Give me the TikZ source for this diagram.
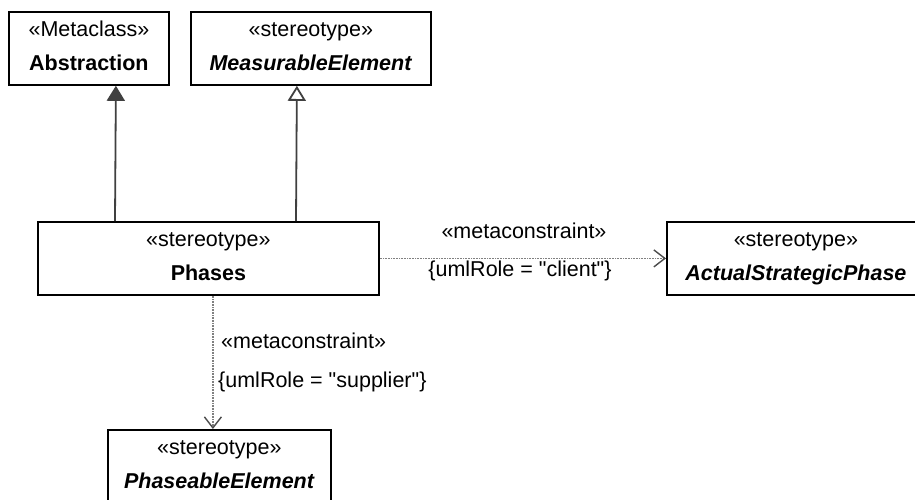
\documentclass[tikz,border=0pt]{standalone}
\usepackage{fontspec}
\setmainfont{Liberation Sans}[Ligatures=TeXOff]
\usetikzlibrary{arrows.meta,calc}
\newcommand\umltext[2]{\rule{0pt}{16pt}#1\\#2\rule[-5pt]{0pt}{5pt}}
\tikzset{
  umlbox/.style={draw=black, line width=1.8pt, fill=white, inner sep=0pt, align=center,
    minimum height=73pt, anchor=north west, font=\fontsize{21.5}{34}\selectfont},
  lbl/.style={inner sep=0pt, font=\fontsize{21.5}{34}\selectfont},
  genfill/.style={draw=black!75, line width=1.8pt, -{Triangle[width=18pt,length=15pt,fill=black!75]}},
  genopen/.style={draw=black!75, line width=1.8pt, -{Triangle[open,width=18pt,length=15pt,fill=white]}},
  dep/.style={draw=black!50, line width=1.6pt, dash pattern=on 1pt off 0.6pt,
    -{Straight Barb[length=11pt,width=17pt,line width=1.4pt,color=black!70]}}
}
\begin{document}
\begin{tikzpicture}[x=1pt,y=-1pt]
\useasboundingbox (0,0) rectangle (915,499);
\fill[white] (0,0) rectangle (915,499);
\clip (0,0) rectangle (915,499);
\node[umlbox, minimum width=160pt] (abs) at (8,11) {\umltext{«Metaclass»}{\textbf{Abstraction}}};
\node[umlbox, minimum width=240pt] (meas) at (190,11) {\umltext{«stereotype»}{\textbf{\textit{MeasurableElement}}}};
\node[umlbox, minimum width=341pt] (phases) at (37,221) {\umltext{«stereotype»}{\textbf{Phases}}};
\node[umlbox, minimum width=258pt] (asp) at (666,221) {\umltext{«stereotype»}{\textbf{\textit{ActualStrategicPhase}}}};
\node[umlbox, minimum width=223pt] (pe) at (107,429) {\umltext{«stereotype»}{\textbf{\textit{PhaseableElement}}}};
\draw[genfill] ([xshift=78pt]phases.north west) -- ([xshift=27pt]abs.south);
\draw[genopen] ([xshift=259pt]phases.north west) -- ([xshift=-14pt]meas.south);
\draw[dep] (phases.east) -- (asp.west);
\draw[dep] ([xshift=4.5pt]phases.south) -- ([xshift=-6.5pt]pe.north);
\node[lbl, anchor=base] (l1) at (524,238) {«metaconstraint»};
\node[lbl, anchor=base] (l2) at (520,276) {\{umlRole = "client"\}};
\node[lbl, anchor=base west] (l3) at (221,348) {«metaconstraint»};
\node[lbl, anchor=base west] (l4) at (218,387) {\{umlRole = "supplier"\}};
\end{tikzpicture}
\end{document}
